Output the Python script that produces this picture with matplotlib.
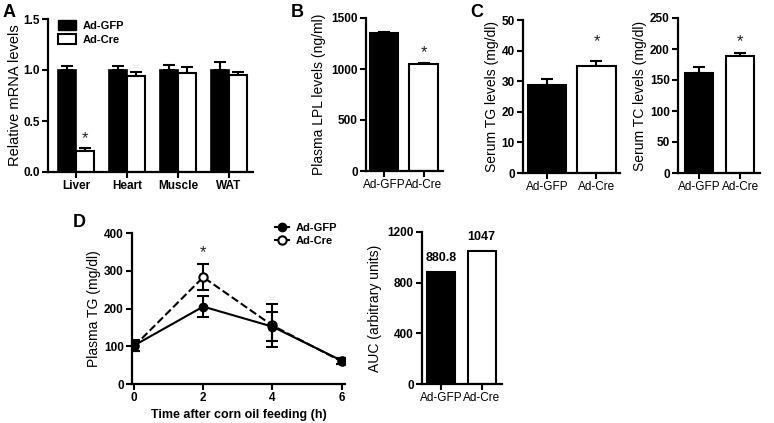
import numpy as np
import matplotlib
matplotlib.use("Agg")
import matplotlib.pyplot as plt
from matplotlib.patches import Patch
from matplotlib.lines import Line2D

plt.rcParams['font.family'] = ['Liberation Sans', 'DejaVu Sans']

# Panel A - relative mRNA levels
tissues = ['Liver', 'Heart', 'Muscle', 'WAT']
mrna_gfp = [1.00, 1.00, 1.00, 1.00]
mrna_gfp_err = [0.04, 0.04, 0.05, 0.08]
mrna_cre = [0.21, 0.94, 0.97, 0.95]
mrna_cre_err = [0.03, 0.04, 0.06, 0.03]

# Panel B - plasma LPL
groups = ['Ad-GFP', 'Ad-Cre']
lpl = [1350, 1045]
lpl_err = [10, 15]

# Panel C - serum TG / TC
tg = [28.8, 34.9]
tg_err = [1.8, 1.6]
tc = [162, 188]
tc_err = [9, 6]

# Panel D - oral fat tolerance
hours = [0, 2, 4, 6]
ptg_gfp = [102, 205, 152, 62]
ptg_gfp_err = [15, 28, 38, 8]
ptg_cre = [100, 283, 155, 60]
ptg_cre_err = [12, 35, 58, 8]
auc = [880.8, 1047]
auc_labels = ['880.8', '1047']

W, H = 774, 423
fig = plt.figure(figsize=(W / 100, H / 100), dpi=100)


def px_axes(x0, y0, x1, y1):
    # pixel box (left, top, right, bottom) -> figure axes
    return fig.add_axes([x0 / W, 1 - y1 / H, (x1 - x0) / W, (y1 - y0) / H])


def style(ax):
    for s in ['top', 'right']:
        ax.spines[s].set_visible(False)
    for s in ['left', 'bottom']:
        ax.spines[s].set_linewidth(1.6)
    ax.tick_params(width=1.5, length=4, pad=2, direction='out')
    for lab in ax.get_yticklabels():
        lab.set_fontweight('bold')
        lab.set_fontsize(8.5)


def plain_xlabels(ax, labels):
    ax.set_xticks([0, 1])
    ax.set_xticklabels(labels, fontsize=8.5, fontweight='normal')


def star(ax, x, y):
    ax.text(x, y, '*', ha='center', va='center', fontsize=12, color='#222222')


ekw = dict(fmt='none', ecolor='black', elinewidth=1.5, capsize=4, capthick=1.5)

# ---- A ----
axA = px_axes(48, 19, 253, 172)
x = np.arange(len(tissues))
bw = 0.35
axA.bar(x - bw / 2, mrna_gfp, bw, color='black', edgecolor='black', linewidth=1.2, zorder=2)
axA.bar(x + bw / 2, mrna_cre, bw, color='white', edgecolor='black', linewidth=1.5, zorder=2)
axA.errorbar(x - bw / 2, mrna_gfp, yerr=[np.zeros(4), mrna_gfp_err], zorder=1, **ekw)
axA.errorbar(x + bw / 2, mrna_cre, yerr=[np.zeros(4), mrna_cre_err], zorder=1, **ekw)
axA.set_xlim(-0.55, 3.47)
axA.set_ylim(0, 1.5)
axA.set_yticks([0, 0.5, 1.0, 1.5])
axA.set_yticklabels(['0.0', '0.5', '1.0', '1.5'])
axA.set_xticks(x)
axA.set_xticklabels(tissues, fontsize=8.5, fontweight='bold')
axA.set_ylabel('Relative mRNA levels', fontsize=10.5, labelpad=1)
style(axA)
star(axA, bw / 2, 0.33)
axA.legend(handles=[Patch(facecolor='black', edgecolor='black'),
                    Patch(facecolor='white', edgecolor='black', linewidth=1.5)],
           labels=['Ad-GFP', 'Ad-Cre'], loc='upper left', bbox_to_anchor=(0.0, 1.06),
           frameon=False, prop={'weight': 'bold', 'size': 8},
           handlelength=1.6, handleheight=1.1, labelspacing=0.25, handletextpad=0.6)

# ---- B ----
axB = px_axes(366, 18, 443, 171)
axB.bar([0, 1], lpl, 0.72, color=['black', 'white'], edgecolor='black', linewidth=1.5, zorder=2)
axB.errorbar([0, 1], lpl, yerr=[[0, 0], lpl_err], zorder=1, **ekw)
axB.set_xlim(-0.456, 1.49)
axB.set_ylim(0, 1500)
axB.set_yticks([0, 500, 1000, 1500])
axB.set_ylabel('Plasma LPL levels (ng/ml)', fontsize=10, labelpad=4)
plain_xlabels(axB, groups)
style(axB)
star(axB, 1, 1157)

# ---- C left ----
axC1 = px_axes(523, 20, 620, 173)
axC1.bar([0, 1], tg, 0.78, color=['black', 'white'], edgecolor='black', linewidth=1.5, zorder=2)
axC1.errorbar([0, 1], tg, yerr=[[0, 0], tg_err], zorder=1, **ekw)
axC1.set_xlim(-0.485, 1.475)
axC1.set_ylim(0, 50)
axC1.set_yticks(range(0, 51, 10))
axC1.set_ylabel('Serum TG levels (mg/dl)', fontsize=10, labelpad=2)
plain_xlabels(axC1, groups)
style(axC1)
star(axC1, 1, 42.8)

# ---- C right ----
axC2 = px_axes(678, 18, 760, 173)
axC2.bar([0, 1], tc, 0.68, color=['black', 'white'], edgecolor='black', linewidth=1.5, zorder=2)
axC2.errorbar([0, 1], tc, yerr=[[0, 0], tc_err], zorder=1, **ekw)
axC2.set_xlim(-0.52, 1.48)
axC2.set_ylim(0, 250)
axC2.set_yticks(range(0, 251, 50))
axC2.set_ylabel('Serum TC levels (mg/dl)', fontsize=10, labelpad=2)
plain_xlabels(axC2, groups)
style(axC2)
star(axC2, 1, 212)

# ---- D line ----
axD = px_axes(132, 233, 345, 384)
axD.errorbar(hours, ptg_gfp, yerr=ptg_gfp_err, color='black', linestyle='-', linewidth=1.5,
             marker='o', markersize=6, markerfacecolor='black', markeredgecolor='black',
             capsize=4, capthick=1.5, elinewidth=1.5, zorder=3)
axD.errorbar(hours, ptg_cre, yerr=ptg_cre_err, color='black', linestyle='--', linewidth=1.5,
             marker='o', markersize=6, markerfacecolor='white', markeredgecolor='black',
             markeredgewidth=1.5, capsize=4, capthick=1.5, elinewidth=1.5, zorder=2)
axD.set_xlim(-0.06, 6.1)
axD.set_ylim(0, 400)
axD.set_xticks(hours)
axD.set_yticks(range(0, 401, 100))
axD.set_xticklabels([str(h) for h in hours], fontsize=8.5, fontweight='bold')
axD.set_xlabel('Time after corn oil feeding (h)', fontsize=9, fontweight='bold', labelpad=3)
axD.set_ylabel('Plasma TG (mg/dl)', fontsize=10, labelpad=2)
style(axD)
star(axD, 2, 347)
axD.legend(handles=[Line2D([], [], color='black', marker='o', markersize=6, linewidth=1.5),
                    Line2D([], [], color='black', marker='o', markersize=6, linewidth=1.5,
                           markerfacecolor='white', markeredgewidth=1.5)],
           labels=['Ad-GFP', 'Ad-Cre'], loc='upper right', bbox_to_anchor=(1.01, 1.13),
           frameon=False, prop={'weight': 'bold', 'size': 8},
           handlelength=1.3, labelspacing=0.2, handletextpad=0.6)

# ---- D AUC ----
axE = px_axes(422, 232, 502, 384)
axE.bar([0, 1], auc, 0.69, color=['black', 'white'], edgecolor='black', linewidth=1.5)
for i, (v, t) in enumerate(zip(auc, auc_labels)):
    axE.text(i, v + 70, t, ha='center', va='bottom', fontsize=9, fontweight='bold')
axE.set_xlim(-0.47, 1.5)
axE.set_ylim(0, 1200)
axE.set_yticks([0, 400, 800, 1200])
axE.set_ylabel('AUC (arbitrary units)', fontsize=10, labelpad=4)
plain_xlabels(axE, groups)
style(axE)

# panel letters
for letter, px, py in [('A', 3, 4), ('B', 291, 4), ('C', 470, 4), ('D', 73, 214)]:
    fig.text(px / W, 1 - py / H, letter, fontsize=13, fontweight='bold', ha='left', va='top')

fig.savefig('out.png', dpi=100)
